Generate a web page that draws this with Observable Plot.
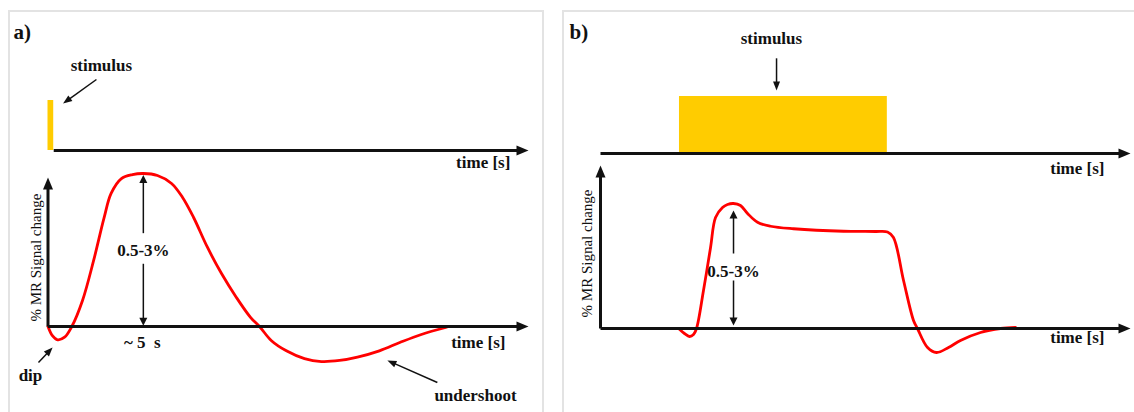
<!DOCTYPE html>
<html>
<head>
<meta charset="utf-8">
<script src="https://cdn.jsdelivr.net/npm/d3@7"></script>
<script src="https://cdn.jsdelivr.net/npm/@observablehq/plot@0.6"></script>
<style>
  html, body { margin: 0; padding: 0; background: #fff; }
  #wrap { position: relative; width: 1134px; height: 412px; overflow: hidden; background: #fff; }
  .panel { position: absolute; border: 2px solid #e3e3e3; box-sizing: border-box; }
</style>
</head>
<body>
<div id="wrap">
  <div class="panel" style="left:8px;top:10px;width:536px;height:430px"></div>
  <div class="panel" style="left:562px;top:10px;width:620px;height:430px"></div>
</div>
<script>
// ---------- data ----------
// a) single event: haemodynamic response (time in s, signal relative to peak)
const hrfTime   = [0, 0.23, 0.5, 0.87, 1.25, 1.81, 2.39, 2.94, 3.31, 3.85, 4.43, 5.0, 5.74, 6.48, 7.05, 7.63, 8.36, 9.1, 9.88, 10.62, 11.09, 11.72, 12.5, 13.45, 14.34, 15.29, 16.23, 17.38, 18.48, 19.58, 20.9];
const hrfSignal = [0, -0.06, -0.087, -0.07, 0, 0.17, 0.43, 0.71, 0.87, 0.967, 0.993, 1.0, 0.987, 0.935, 0.845, 0.714, 0.518, 0.346, 0.19, 0.06, 0, -0.093, -0.159, -0.21, -0.229, -0.222, -0.2, -0.159, -0.103, -0.052, -0.005];
// b) block stimulus: sustained response
const blockTime   = [7.51, 8.08, 8.56, 8.95, 9.24, 9.91, 10.59, 11.07, 11.74, 12.22, 12.8, 13.47, 14.15, 15.11, 16.36, 18.57, 23.38, 26.46, 27.62, 28.19, 29.16, 30.12, 30.5, 31.47, 32.33, 33.49, 34.64, 36.57, 38.49, 39.93];
const blockSignal = [0, -0.04, -0.064, -0.048, 0, 0.304, 0.648, 0.888, 0.968, 0.992, 1.0, 0.984, 0.92, 0.85, 0.818, 0.798, 0.778, 0.776, 0.772, 0.728, 0.384, 0.064, 0, -0.152, -0.192, -0.152, -0.096, -0.032, 0, 0.008];
// stimuli (start, end in s)
const stimulusA = [{start: 0, end: 0.3, base: 0, level: 1}];
const stimulusB = [{start: 7.6, end: 27.6, base: 0, level: 1}];
// axis extents
const axisEndA = 25.2, axisTopA = 0.974;
const axisEndB = 51, axisTopB = 1.304;
// labels
const panelLabels = ["a)", "b)"];
const stimulusLabel = "stimulus";
const timeLabel = "time [s]";
const yLabel = "% MR Signal change";
const amplitudeLabel = "0.5-3%";
const peakTimeLabel = "~ 5\u00a0\u00a0s";
const dipLabel = "dip";
const undershootLabel = "undershoot";
const peakTimeA = 5, peakTimeB = 12.8;

// ---------- layout (pixel frames) ----------
const W = 1134, H = 412;
const xA  = d3.scaleLinear([0, axisEndA], [47.5, 528]);
const ysA = d3.scaleLinear([0, 1], [150, 100]);
const yrA = d3.scaleLinear([0, 1], [326, 173]);
const xB  = d3.scaleLinear([0, axisEndB], [600, 1130]);
const ysB = d3.scaleLinear([0, 1], [153, 96]);
const yrB = d3.scaleLinear([0, 1], [328, 203]);

const FONT = "'Liberation Serif', 'Times New Roman', serif";
const INK = "#111";
const YELLOW = "#FFCC00";
const RED = "#FF0000";

function headSymbol(angle, L, Wd) {
  const a = angle * Math.PI / 180, c = Math.cos(a), s = Math.sin(a);
  const pts = [[0, 0], [-L, -Wd / 2], [-L, Wd / 2]].map(([x, y]) => [x * c - y * s, x * s + y * c]);
  return {draw(ctx) { ctx.moveTo(pts[0][0], pts[0][1]); ctx.lineTo(pts[1][0], pts[1][1]); ctx.lineTo(pts[2][0], pts[2][1]); ctx.closePath(); }};
}

// arrow from p0 to p1 (data coordinates), filled head at p1
function arrow(sx, sy, p0, p1, {L = 9, Wd = 7, sw = 1.5, color = INK} = {}) {
  const X0 = sx(p0[0]), Y0 = sy(p0[1]), X1 = sx(p1[0]), Y1 = sy(p1[1]);
  const len = Math.hypot(X1 - X0, Y1 - Y0);
  const k = (len - L * 0.6) / len;
  const end = [sx.invert(X0 + (X1 - X0) * k), sy.invert(Y0 + (Y1 - Y0) * k)];
  const angle = Math.atan2(Y1 - Y0, X1 - X0) * 180 / Math.PI;
  return [
    Plot.link([{x1: p0[0], y1: p0[1], x2: end[0], y2: end[1]}], {x1: "x1", y1: "y1", x2: "x2", y2: "y2", stroke: color, strokeWidth: sw}),
    Plot.dot([{x: p1[0], y: p1[1]}], {x: "x", y: "y", symbol: headSymbol(angle, L, Wd), fill: color, stroke: "none", r: 4})
  ];
}

function label(t, v, text, opts = {}) {
  return Plot.text([{t, v, text}], {x: "t", y: "v", text: "text", fontFamily: FONT, fontWeight: "bold", fontSize: 17, fill: INK, ...opts});
}

function track(sx, sy, marks) {
  return Plot.plot({
    width: W, height: H,
    x: {domain: sx.domain(), range: sx.range(), axis: null},
    y: {domain: sy.domain(), range: sy.range(), axis: null},
    style: {position: "absolute", left: "0px", top: "0px", background: "none", maxWidth: "none", overflow: "visible"},
    marks
  });
}

const AX = {L: 12, Wd: 10, sw: 3};
const DA = {L: 8, Wd: 8, sw: 1.5};

const hrf = hrfTime.map((t, i) => ({t, v: hrfSignal[i]}));
const block = blockTime.map((t, i) => ({t, v: blockSignal[i]}));

// ---------- panel a ----------
const aStim = track(xA, ysA, [
  Plot.rect(stimulusA, {x1: "start", x2: "end", y1: "base", y2: "level", fill: YELLOW}),
  ...arrow(xA, ysA, [stimulusA[0].end, 0], [axisEndA, 0], AX),
  label(2.8, 1.7, stimulusLabel),
  ...arrow(xA, ysA, [2.54, 1.42], [0.79, 0.94]),
  label(24.25, -0.24, timeLabel, {textAnchor: "end"}),
  label(-1.81, 2.36, panelLabels[0], {textAnchor: "start", fontSize: 21})
]);

const aResp = track(xA, yrA, [
  Plot.line(hrf, {x: "t", y: "v", stroke: RED, strokeWidth: 2.8, curve: "catmull-rom"}),
  ...arrow(xA, yrA, [0, 0], [axisEndA, 0], AX),
  ...arrow(xA, yrA, [0, 0], [0, axisTopA], AX),
  ...arrow(xA, yrA, [peakTimeA, 0.61], [peakTimeA, 0.99], DA),
  ...arrow(xA, yrA, [peakTimeA, 0.41], [peakTimeA, 0.005], DA),
  label(peakTimeA, 0.497, amplitudeLabel),
  label(4.95, -0.105, peakTimeLabel),
  label(23.99, -0.105, timeLabel, {textAnchor: "end"}),
  label(-0.62, 0.45, yLabel, {rotate: -90, fontWeight: "normal", fontSize: 15}),
  label(-0.92, -0.32, dipLabel),
  ...arrow(xA, yrA, [-0.5, -0.235], [0.24, -0.137]),
  label(22.42, -0.451, undershootLabel),
  ...arrow(xA, yrA, [20.42, -0.366], [17.8, -0.222])
]);

// ---------- panel b ----------
const bStim = track(xB, ysB, [
  Plot.rect(stimulusB, {x1: "start", x2: "end", y1: "base", y2: "level", fill: YELLOW}),
  ...arrow(xB, ysB, [0, 0], [axisEndB, 0], AX),
  label(16.45, 2.02, stimulusLabel),
  ...arrow(xB, ysB, [16.94, 1.67], [16.94, 1.105]),
  label(48.5, -0.26, timeLabel, {textAnchor: "end"}),
  label(-2.98, 2.12, panelLabels[1], {textAnchor: "start", fontSize: 21})
]);

const bResp = track(xB, yrB, [
  Plot.line(block, {x: "t", y: "v", stroke: RED, strokeWidth: 2.8, curve: "catmull-rom"}),
  ...arrow(xB, yrB, [0, 0], [axisEndB, 0], AX),
  ...arrow(xB, yrB, [0, 0], [0, axisTopB], AX),
  ...arrow(xB, yrB, [peakTimeB, 0.6], [peakTimeB, 0.944], DA),
  ...arrow(xB, yrB, [peakTimeB, 0.384], [peakTimeB, 0.024], DA),
  label(peakTimeB, 0.456, amplitudeLabel),
  label(48.5, -0.072, timeLabel, {textAnchor: "end"}),
  label(-1.25, 0.6, yLabel, {rotate: -90, fontWeight: "normal", fontSize: 15})
]);

const wrap = document.getElementById("wrap");
[aStim, aResp, bStim, bResp].forEach(s => wrap.appendChild(s));
</script>
</body>
</html>
